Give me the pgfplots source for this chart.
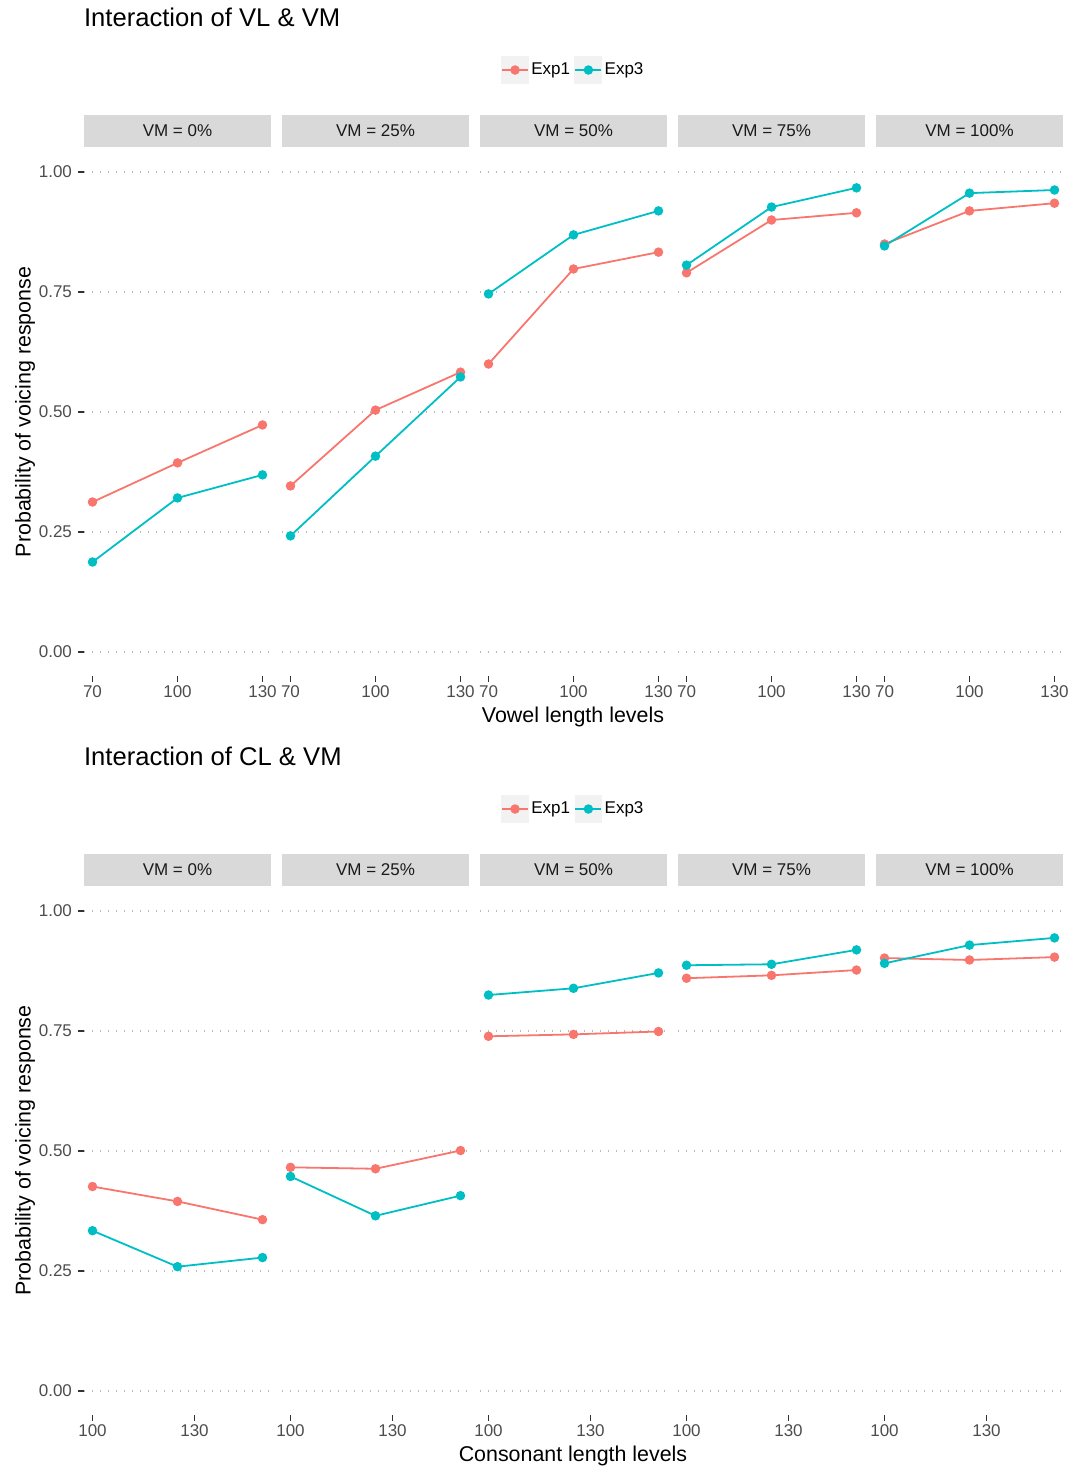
\documentclass[border=0pt]{standalone}
\usepackage{fontspec}
\setmainfont{Liberation Sans}
\usepackage{pgfplots}
\pgfplotsset{compat=1.18}
\definecolor{ered}{HTML}{F8766D}
\definecolor{eteal}{HTML}{00BFC4}
\definecolor{stripbg}{HTML}{D9D9D9}
\definecolor{ticklab}{HTML}{4D4D4D}
\definecolor{tickc}{HTML}{333333}
\definecolor{gridc}{HTML}{B8B8B8}
\definecolor{keybg}{HTML}{F2F2F2}
\definecolor{striptext}{HTML}{1A1A1A}
\pgfplotsset{
 panel/.style={scale only axis, width=93.5pt, height=264pt, anchor=north west,
   ymin=-0.05, ymax=1.05, ytick={0,0.25,0.5,0.75,1},
   yticklabels={0.00,0.25,0.50,0.75,1.00},
   axis line style={draw=none},
   ymajorgrids, grid style={gridc, line width=0.7pt, dash pattern=on 0.7pt off 3.3pt},
   xtick pos=left, ytick pos=left,
   tick align=inside, major tick length=-2.8pt,
   tick style={tickc, line width=0.85pt},
   ticklabel style={font=\fontsize{8.5}{10}\selectfont, text=ticklab},
   xticklabel style={yshift=-1.5pt},
   yticklabel style={xshift=-2.5pt},
   /pgf/number format/assume math mode=true,
   clip=false,
 },
 inner/.style={panel, yticklabels={}, ytick style={draw=none}},
 toprow/.style={xmin=67, xmax=133, xtick={70,100,130}},
 botrow/.style={xmin=97.5, xmax=152.5, xtick={100,130}},
 e1/.style={ered, line width=0.9pt, mark=*, mark size=1.9pt, mark options={solid}},
 e3/.style={eteal, line width=0.9pt, mark=*, mark size=1.9pt, mark options={solid}},
 withlegend/.style={
   legend style={at={(0.5,1.1477)}, anchor=center, draw=none, fill=none,
     legend columns=2, font=\fontsize{8.5}{10}\selectfont, inner sep=0pt,
     nodes={inner sep=1.2pt},
     /tikz/every even column/.append style={column sep=1pt}},
   legend image code/.code={\fill[keybg] (0pt,-6.5pt) rectangle (13pt,6.5pt);
     \draw[mark repeat=2,mark phase=2,##1] plot coordinates {(0pt,0pt) (6.5pt,0pt) (13pt,0pt)};}
 },
}
\begin{document}
\begin{tikzpicture}
\useasboundingbox (0,0) rectangle (535.5pt,-734pt);
% ---------- titles and labels ----------
\node[anchor=west, font=\fontsize{12.8}{15}\selectfont] at (38.5pt,-8.5pt) {Interaction of VL \& VM};
\node[anchor=west, font=\fontsize{12.8}{15}\selectfont] at (38.5pt,-378pt) {Interaction of CL \& VM};
\node[font=\fontsize{10.7}{13}\selectfont] at (286.5pt,-358.5pt) {Vowel length levels};
\node[font=\fontsize{10.7}{13}\selectfont] at (286.5pt,-728pt) {Consonant length levels};
\node[rotate=90, font=\fontsize{10.7}{13}\selectfont] at (12.5pt,-206pt) {Probability of voicing response};
\node[rotate=90, font=\fontsize{10.7}{13}\selectfont] at (12.5pt,-575.25pt) {Probability of voicing response};
% ---------- strips ----------
\foreach \xx/\lab in {42/0, 141/25, 240/50, 339/75, 438/100}{
  \fill[stripbg] (\xx pt,-57.5pt) rectangle ++(93.5pt,-16pt);
  \node[text=striptext, font=\fontsize{8.5}{10}\selectfont] at (\xx pt+46.75pt,-65.5pt) {VM = \lab\%};
  \fill[stripbg] (\xx pt,-427pt) rectangle ++(93.5pt,-16pt);
  \node[text=striptext, font=\fontsize{8.5}{10}\selectfont] at (\xx pt+46.75pt,-435pt) {VM = \lab\%};
}
% ---------- top row: VL ----------
\begin{axis}[panel, toprow, at={(42pt,-74pt)}]
\addplot[e1] coordinates {(70,0.3125) (100,0.394) (130,0.473)};
\addplot[e3] coordinates {(70,0.1875) (100,0.321) (130,0.369)};
\end{axis}
\begin{axis}[inner, toprow, at={(141pt,-74pt)}]
\addplot[e1] coordinates {(70,0.346) (100,0.504) (130,0.583)};
\addplot[e3] coordinates {(70,0.242) (100,0.408) (130,0.573)};
\end{axis}
\begin{axis}[inner, toprow, withlegend, at={(240pt,-74pt)}]
\addplot[e1] coordinates {(70,0.600) (100,0.798) (130,0.833)};
\addlegendentry{Exp1}
\addplot[e3] coordinates {(70,0.746) (100,0.869) (130,0.919)};
\addlegendentry{Exp3}
\end{axis}
\begin{axis}[inner, toprow, at={(339pt,-74pt)}]
\addplot[e1] coordinates {(70,0.790) (100,0.900) (130,0.915)};
\addplot[e3] coordinates {(70,0.806) (100,0.927) (130,0.967)};
\end{axis}
\begin{axis}[inner, toprow, at={(438pt,-74pt)}]
\addplot[e1] coordinates {(70,0.850) (100,0.919) (130,0.935)};
\addplot[e3] coordinates {(70,0.846) (100,0.956) (130,0.9625)};
\end{axis}
% ---------- bottom row: CL ----------
\begin{axis}[panel, botrow, at={(42pt,-443.5pt)}]
\addplot[e1] coordinates {(100,0.426) (125,0.395) (150,0.357)};
\addplot[e3] coordinates {(100,0.334) (125,0.259) (150,0.278)};
\end{axis}
\begin{axis}[inner, botrow, at={(141pt,-443.5pt)}]
\addplot[e1] coordinates {(100,0.466) (125,0.463) (150,0.501)};
\addplot[e3] coordinates {(100,0.447) (125,0.365) (150,0.407)};
\end{axis}
\begin{axis}[inner, botrow, withlegend, at={(240pt,-443.5pt)}]
\addplot[e1] coordinates {(100,0.739) (125,0.743) (150,0.749)};
\addlegendentry{Exp1}
\addplot[e3] coordinates {(100,0.825) (125,0.839) (150,0.871)};
\addlegendentry{Exp3}
\end{axis}
\begin{axis}[inner, botrow, at={(339pt,-443.5pt)}]
\addplot[e1] coordinates {(100,0.860) (125,0.866) (150,0.877)};
\addplot[e3] coordinates {(100,0.887) (125,0.889) (150,0.919)};
\end{axis}
\begin{axis}[inner, botrow, at={(438pt,-443.5pt)}]
\addplot[e1] coordinates {(100,0.902) (125,0.898) (150,0.904)};
\addplot[e3] coordinates {(100,0.891) (125,0.929) (150,0.944)};
\end{axis}
\end{tikzpicture}
\end{document}
